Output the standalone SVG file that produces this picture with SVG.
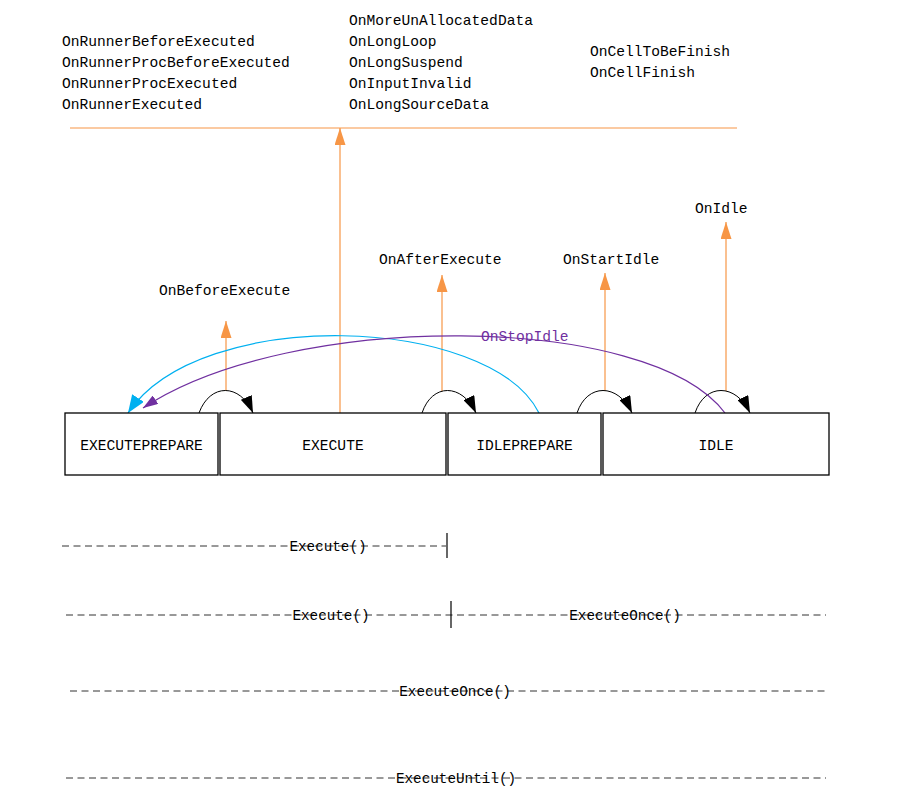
<svg xmlns="http://www.w3.org/2000/svg" width="903" height="792" viewBox="0 0 903 792">
<style>
text{font-family:"Liberation Mono","DejaVu Sans Mono",monospace;font-size:14.6px;fill:#000}
.box{fill:#fff;stroke:#000;stroke-width:1.3}
.or{stroke:#F79646;stroke-width:1.2;fill:none}
.loop{stroke:#000;stroke-width:1;fill:none}
.dash{stroke:#333;stroke-width:1;stroke-dasharray:7 4.5;fill:none}
.tick{stroke:#000;stroke-width:1.2}
.mid{text-anchor:middle}
.small{font-size:14.3px}
</style>
<defs>
<marker id="aOr" markerUnits="userSpaceOnUse" markerWidth="17" markerHeight="11" refX="17" refY="5.5" orient="auto"><path d="M0,0 L17,5.5 L0,11 z" fill="#F79646"/></marker>
<marker id="aBk" markerUnits="userSpaceOnUse" markerWidth="17" markerHeight="12" refX="17" refY="6" orient="auto"><path d="M0,0 L17,6 L0,12 z" fill="#000"/></marker>
<marker id="aCy" markerUnits="userSpaceOnUse" markerWidth="18" markerHeight="14" refX="18" refY="7" orient="auto"><path d="M0,0 L18,7 L0,14 z" fill="#00B0F0"/></marker>
<marker id="aPu" markerUnits="userSpaceOnUse" markerWidth="15" markerHeight="10" refX="15" refY="5" orient="auto"><path d="M0,0 L15,5 L0,10 z" fill="#7030A0"/></marker>
</defs>
<rect width="903" height="792" fill="#fff"/>

<g id="top-events">
<text x="62" y="46">OnRunnerBeforeExecuted</text>
<text x="62" y="67">OnRunnerProcBeforeExecuted</text>
<text x="62" y="88">OnRunnerProcExecuted</text>
<text x="62" y="109">OnRunnerExecuted</text>
<text x="349" y="25">OnMoreUnAllocatedData</text>
<text x="349" y="46">OnLongLoop</text>
<text x="349" y="67">OnLongSuspend</text>
<text x="349" y="88">OnInputInvalid</text>
<text x="349" y="109">OnLongSourceData</text>
<text x="590" y="56">OnCellToBeFinish</text>
<text x="590" y="77">OnCellFinish</text>
</g>

<g id="connectors">
<line class="or" x1="70" y1="128" x2="737" y2="128"/>
<line class="or" x1="340" y1="413" x2="340" y2="128" marker-end="url(#aOr)"/>
<line class="or" x1="226" y1="391" x2="226" y2="321" marker-end="url(#aOr)"/>
<line class="or" x1="442" y1="391" x2="442" y2="275" marker-end="url(#aOr)"/>
<line class="or" x1="605" y1="391" x2="605" y2="273" marker-end="url(#aOr)"/>
<line class="or" x1="726" y1="391" x2="726" y2="222" marker-end="url(#aOr)"/>
<path class="loop" d="M199,413 C210,383 240,383 253,413" marker-end="url(#aBk)"/>
<path class="loop" d="M422,413 C432,383 462,383 476,413" marker-end="url(#aBk)"/>
<path class="loop" d="M577,413 C587,383 618,383 632,413" marker-end="url(#aBk)"/>
<path class="loop" d="M695,413 C705,383 736,383 750,413" marker-end="url(#aBk)"/>
<path d="M539,413 C490,315 200,305 128,413" fill="none" stroke="#00B0F0" stroke-width="1.2" marker-end="url(#aCy)"/>
<path d="M725,413 C650,312 290,310 143,408" fill="none" stroke="#7030A0" stroke-width="1.2" marker-end="url(#aPu)"/>
</g>

<g id="event-labels">
<text x="159" y="295">OnBeforeExecute</text>
<text x="379" y="264">OnAfterExecute</text>
<text x="563" y="264">OnStartIdle</text>
<text x="695" y="213">OnIdle</text>
<text x="481" y="341" style="fill:#7030A0">OnStopIdle</text>
</g>

<g id="node-executeprepare">
<rect class="box" x="65" y="413" width="153" height="62"/>
<text class="mid" x="141.5" y="450">EXECUTEPREPARE</text>
</g>
<g id="node-execute">
<rect class="box" x="220" y="413" width="226" height="62"/>
<text class="mid" x="333" y="450">EXECUTE</text>
</g>
<g id="node-idleprepare">
<rect class="box" x="448" y="413" width="153" height="62"/>
<text class="mid" x="524.5" y="450">IDLEPREPARE</text>
</g>
<g id="node-idle">
<rect class="box" x="603" y="413" width="226" height="62"/>
<text class="mid" x="716" y="450">IDLE</text>
</g>

<g id="call-ranges">
<line class="dash" x1="62" y1="546" x2="446" y2="546"/>
<line class="tick" x1="447" y1="533" x2="447" y2="558"/>
<text class="mid small" x="328" y="551">Execute()</text>

<line class="dash" x1="66" y1="615" x2="826" y2="615"/>
<line class="tick" x1="451" y1="601" x2="451" y2="628"/>
<text class="mid small" x="331" y="620">Execute()</text>
<text class="mid small" x="625" y="620">ExecuteOnce()</text>

<line class="dash" x1="70" y1="691" x2="826" y2="691"/>
<text class="mid small" x="455" y="696">ExecuteOnce()</text>

<line class="dash" x1="66" y1="778" x2="826" y2="778"/>
<text class="mid small" x="456" y="783">ExecuteUntil()</text>
</g>
</svg>
